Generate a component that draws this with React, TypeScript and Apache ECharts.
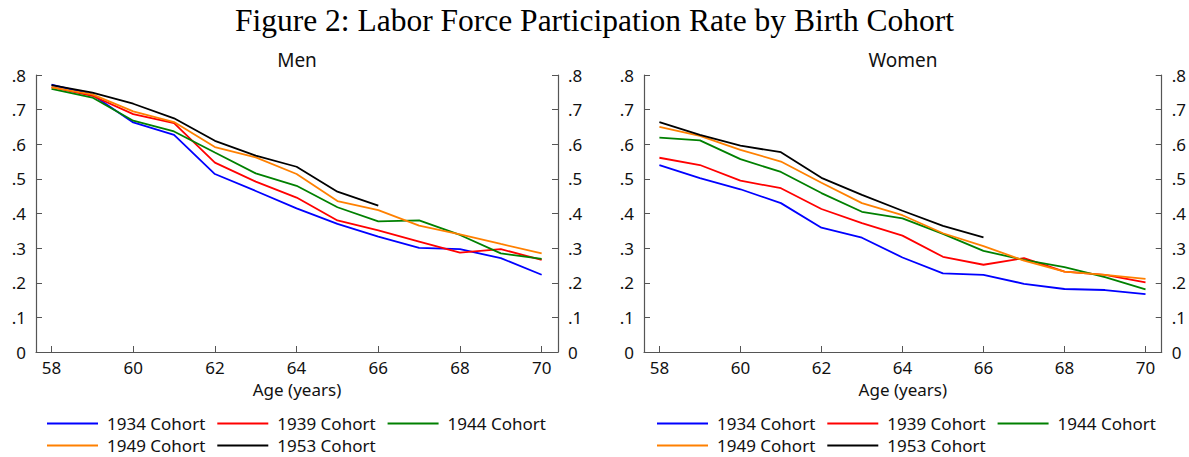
import React, { useEffect, useRef } from "react";
import * as echarts from "echarts";

const ages = [58, 59, 60, 61, 62, 63, 64, 65, 66, 67, 68, 69, 70];
const cohorts = ["1934 Cohort", "1939 Cohort", "1944 Cohort", "1949 Cohort", "1953 Cohort"];
const colors = ["#0000ff", "#ff0000", "#008000", "#ff8000", "#000000"];

const men1934 = [0.772, 0.743, 0.663, 0.627, 0.514, 0.465, 0.415, 0.37, 0.333, 0.301, 0.297, 0.271, 0.223];
const men1939 = [0.765, 0.74, 0.687, 0.661, 0.547, 0.492, 0.446, 0.38, 0.351, 0.319, 0.287, 0.297, 0.266];
const men1944 = [0.76, 0.735, 0.668, 0.637, 0.576, 0.516, 0.48, 0.418, 0.377, 0.38, 0.338, 0.285, 0.269];
const men1949 = [0.764, 0.744, 0.695, 0.664, 0.592, 0.562, 0.514, 0.436, 0.41, 0.365, 0.34, 0.312, 0.285];
const men1953 = [0.771, 0.749, 0.717, 0.675, 0.61, 0.567, 0.535, 0.463, 0.423];

const women1934 = [0.54, 0.502, 0.47, 0.43, 0.359, 0.33, 0.273, 0.227, 0.223, 0.197, 0.182, 0.179, 0.167];
const women1939 = [0.561, 0.54, 0.495, 0.473, 0.413, 0.372, 0.336, 0.275, 0.252, 0.271, 0.232, 0.223, 0.201];
const women1944 = [0.619, 0.611, 0.557, 0.52, 0.459, 0.405, 0.386, 0.341, 0.292, 0.266, 0.245, 0.216, 0.181];
const women1949 = [0.65, 0.624, 0.584, 0.55, 0.489, 0.43, 0.395, 0.343, 0.306, 0.264, 0.232, 0.223, 0.211];
const women1953 = [0.664, 0.627, 0.596, 0.577, 0.503, 0.454, 0.408, 0.364, 0.331];

const xTicks = [58, 60, 62, 64, 66, 68, 70];

const titleText = "Figure 2: Labor Force Participation Rate by Birth Cohort";
const panelTitles = ["Men", "Women"];
const xName = "Age (years)";

const SANS = "'Noto Sans', sans-serif";

export default function App() {
  const ref = useRef<HTMLDivElement>(null);
  useEffect(() => {
    document.body.style.margin = "0";
    const chart = echarts.init(ref.current!, null, { renderer: "svg" });
    const menData = [men1934, men1939, men1944, men1949, men1953];
    const womenData = [women1934, women1939, women1944, women1949, women1953];
    const fmtY = (v: number) => (Math.abs(v) < 1e-9 ? "0" : "." + Math.round(v * 10));
    const axisLine = { show: true, lineStyle: { color: "#555", width: 1.2 } };

    const xAxes = [0, 1].map((g) => ({
      type: "value",
      gridIndex: g,
      min: 57.62,
      max: 70.4,
      name: xName,
      nameLocation: "middle",
      nameGap: 28,
      nameTextStyle: { fontFamily: SANS, fontSize: 17, color: "#111" },
      axisLine,
      axisTick: { show: true, inside: true, length: 6, customValues: xTicks, lineStyle: { color: "#555" } },
      axisLabel: { customValues: xTicks, margin: 7, fontFamily: SANS, fontSize: 17, color: "#111" },
      splitLine: { show: false },
    }));
    const yAxes: any[] = [];
    [0, 1].forEach((g) => {
      ["left", "right"].forEach((pos) => {
        yAxes.push({
          type: "value",
          gridIndex: g,
          position: pos,
          min: 0,
          max: 0.8,
          interval: 0.1,
          axisLine,
          axisTick: { show: true, inside: true, length: 6, lineStyle: { color: "#555" } },
          axisLabel: { formatter: fmtY, margin: 10, fontFamily: SANS, fontSize: 17, color: "#111" },
          splitLine: { show: false },
        });
      });
    });

    const series: any[] = [];
    [menData, womenData].forEach((set, g) => {
      set.forEach((vals, i) => {
        series.push({
          type: "line",
          name: cohorts[i],
          xAxisIndex: g,
          yAxisIndex: g * 2,
          data: vals.map((v, k) => [ages[k], v]),
          symbol: "none",
          lineStyle: { color: colors[i], width: 1.8 },
          itemStyle: { color: colors[i] },
        });
      });
    });

    const legendBase = {
      orient: "horizontal",
      icon: "rect",
      itemWidth: 51,
      itemHeight: 2,
      itemGap: 12,
      padding: 0,
      textStyle: { fontFamily: SANS, fontSize: 17, color: "#111", width: 103, padding: [0, 0, 0, 4] },
    };
    const legends = [47, 657].flatMap((left) => [
      { ...legendBase, left, top: 415, data: cohorts.slice(0, 3) },
      { ...legendBase, left, top: 437, data: cohorts.slice(3) },
    ]);

    chart.setOption({
      animation: false,
      backgroundColor: "#fff",
      title: [
        {
          text: titleText,
          left: "center",
          top: -1,
          textStyle: { fontFamily: "'Liberation Serif', serif", fontSize: 31.5, fontWeight: "normal", color: "#000" },
        },
      ],
      graphic: panelTitles.map((t, i) => ({
        type: "text",
        x: i === 0 ? 297 : 903,
        y: 60,
        style: {
          text: t,
          textAlign: "center",
          textVerticalAlign: "middle",
          fontFamily: SANS,
          fontSize: 19,
          fill: "#111",
        },
      })),
      grid: [
        { left: 36, right: 631, top: 75, bottom: 105 },
        { left: 644, right: 27, top: 75, bottom: 105 },
      ],
      xAxis: xAxes,
      yAxis: yAxes,
      legend: legends,
      series,
    });
    return () => chart.dispose();
  }, []);
  return <div ref={ref} style={{ width: 1189, height: 457 }} />;
}
